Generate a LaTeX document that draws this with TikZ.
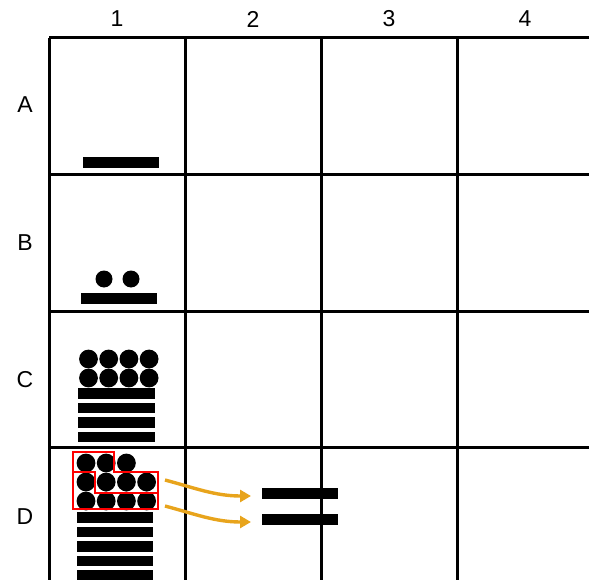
\documentclass[tikz,border=0pt]{standalone}
\usepackage{fontspec}
\setmainfont{Liberation Sans}
\usetikzlibrary{arrows.meta}
\definecolor{arrowgold}{RGB}{232,164,28}
\tikzset{
  headlabel/.style={font=\fontsize{23}{27}\selectfont},
  gridline/.style={line width=3pt},
  numbar/.style={fill=black},
  numdot/.style={fill=black},
  groupbox/.style={draw=red,line width=1.4pt},
  carry/.style={draw=arrowgold,line width=3.4pt,-{Triangle[length=11pt,width=12pt]}},
}
\begin{document}
\begin{tikzpicture}[x=1pt,y=-1pt]
\useasboundingbox (0,0) rectangle (589,580);
% grid
\foreach \x in {49,185,321,457} \draw[gridline] (\x,38) -- (\x,580);
\foreach \y in {38,175,311,447} \draw[gridline] (49,\y) -- (589,\y);
% headings
\foreach \n/\x in {1/117,2/253,3/389,4/525}
  \node[headlabel] (col\n) at (\x,19) {\n};
\foreach \r/\y in {A/105,B/243,C/380,D/517}
  \node[headlabel] (row\r) at (25,\y) {\r};
% row A
\fill[numbar] (83,157) rectangle (159,168);
% row B
\fill[numdot] (104,279) circle (8.5) (131,279) circle (8.5);
\fill[numbar] (81,293) rectangle (157,304);
% row C
\foreach \i in {0,...,3} {
  \fill[numdot] (88.5+20.2*\i,359) circle (9.4);
  \fill[numdot] (88.5+20.2*\i,378) circle (9.4);
  \fill[numbar] (78,388+14.5*\i) rectangle (155,398.5+14.5*\i);
}
% row D
\foreach \i in {0,1,2} \fill[numdot] (86+20.2*\i,463) circle (9.4);
\foreach \i in {0,...,3} {
  \fill[numdot] (86+20.2*\i,482) circle (9.4);
  \fill[numdot] (86+20.2*\i,501) circle (9.4);
}
\foreach \i in {0,...,4} \fill[numbar] (77,512+14.5*\i) rectangle (153,522.5+14.5*\i);
\draw[groupbox] (73,452) -- (114,452) -- (114,472) -- (158,472) -- (158,509) -- (73,509) -- cycle;
\draw[groupbox] (73,472) -- (95,472) -- (95,493) -- (158,493);
% carried bars
\coordinate (from1) at (165,480);
\coordinate (to1) at (251,496);
\coordinate (from2) at (165,506);
\coordinate (to2) at (251,522);
\draw[carry] (from1) .. controls (195,488) and (215,496) .. (to1);
\draw[carry] (from2) .. controls (195,514) and (215,522) .. (to2);
\fill[numbar] (262,488) rectangle (338,498.5);
\fill[numbar] (262,514) rectangle (338,524.5);
\end{tikzpicture}
\end{document}
